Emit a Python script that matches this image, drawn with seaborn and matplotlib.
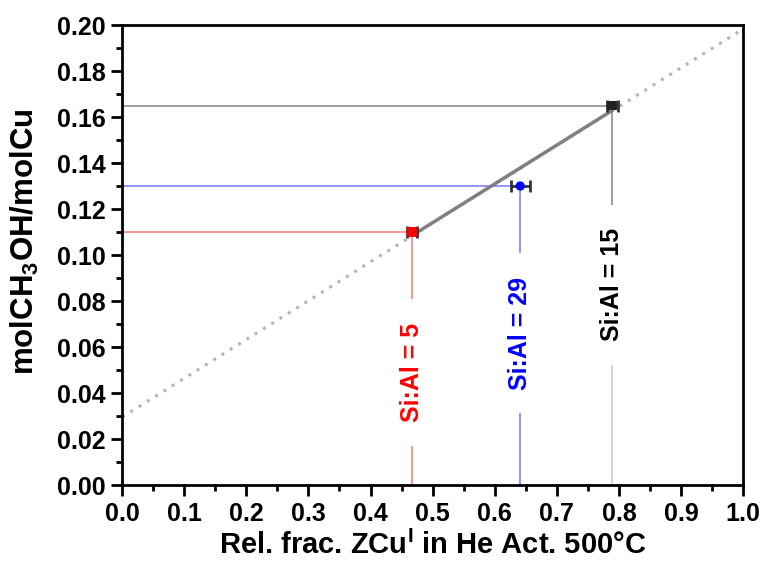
import matplotlib
matplotlib.use("Agg")
import matplotlib.pyplot as plt
import seaborn as sns
import pandas as pd
import numpy as np

# ---- data ----
samples = ["Si:Al = 5", "Si:Al = 29", "Si:Al = 15"]
x_frac = [0.467, 0.641, 0.789]
y_meoh = [0.110, 0.130, 0.165]
x_err = [0.008, 0.015, 0.009]
point_colors = ["#ff0000", "#0000ff", "#222222"]
point_markers = ["s", "o", "s"]
guide_colors = ["#ff8080", "#8080ff", "#8c8c8c"]
guide_low_colors = ["#ff8080", "#8080ff", "#cccccc"]
label_colors = ["#ff0000", "#0000ff", "#000000"]
label_y = [0.049, 0.066, 0.087]

fit_x = [0.0, 1.0]
fit_y = [0.0295, 0.1983]
seg_x = [0.467, 0.789]
seg_y = [0.1085, 0.1628]

x_ticks = [0.0, 0.1, 0.2, 0.3, 0.4, 0.5, 0.6, 0.7, 0.8, 0.9, 1.0]
y_ticks = [0.00, 0.02, 0.04, 0.06, 0.08, 0.10, 0.12, 0.14, 0.16, 0.18, 0.20]

sns.set_theme(style="ticks")
plt.rcParams["font.family"] = ["Liberation Sans", "DejaVu Sans"]
plt.rcParams["font.weight"] = "bold"
plt.rcParams["text.color"] = "black"
plt.rcParams["axes.labelcolor"] = "black"
plt.rcParams["xtick.color"] = "black"
plt.rcParams["ytick.color"] = "black"
plt.rcParams["mathtext.fontset"] = "custom"
plt.rcParams["mathtext.rm"] = "Liberation Sans:bold"
plt.rcParams["mathtext.it"] = "Liberation Sans:bold"
plt.rcParams["mathtext.bf"] = "Liberation Sans:bold"
plt.rcParams["mathtext.default"] = "rm"

fig = plt.figure(figsize=(7.63, 5.67), dpi=100)
ax = fig.add_axes([0.160, 0.1446, 0.814, 0.8113])

# dotted full fit line
sns.lineplot(x=fit_x, y=fit_y, ax=ax, color="#b4b4b4", linestyle=(0, (1, 2.2)),
             linewidth=2.2, zorder=1)
# solid segment
sns.lineplot(x=seg_x, y=seg_y, ax=ax, color="#808080", linewidth=2.5, zorder=4)

for i in range(len(samples)):
    ax.plot([0, x_frac[i]], [y_meoh[i], y_meoh[i]], color=guide_colors[i], lw=1.2, zorder=2)
    ax.plot([x_frac[i], x_frac[i]], [label_y[i], y_meoh[i]], color=guide_colors[i], lw=1.2, zorder=2)
    ax.plot([x_frac[i], x_frac[i]], [0, label_y[i]], color=guide_low_colors[i], lw=1.2, zorder=2)
    ax.text(x_frac[i], label_y[i], samples[i], rotation=90, ha="center", va="center",
            color=label_colors[i], fontsize=18, fontweight="bold", zorder=3,
            bbox=dict(boxstyle="square,pad=0.95", fc="white", ec="none"))

df = pd.DataFrame({"x": x_frac, "y": y_meoh, "s": samples})
for i in range(len(samples)):
    ax.errorbar(x_frac[i], y_meoh[i], xerr=x_err[i], fmt="none", ecolor="#333333",
                elinewidth=2, capsize=4, capthick=2, zorder=5)
    sns.scatterplot(data=df.iloc[[i]], x="x", y="y", ax=ax, color=point_colors[i],
                    marker=point_markers[i], s=45, edgecolor="none", zorder=6)

ax.set_xlim(0, 1.0)
ax.set_ylim(0, 0.20)
ax.set_xticks(x_ticks)
ax.set_yticks(y_ticks)
ax.set_xticklabels([f"{v:.1f}" for v in x_ticks])
ax.set_yticklabels([f"{v:.2f}" for v in y_ticks])
ax.set_xticks(np.arange(0.05, 1.0, 0.1), minor=True)
ax.set_yticks(np.arange(0.01, 0.2, 0.02), minor=True)

for s in ax.spines.values():
    s.set_linewidth(2)
    s.set_color("black")
ax.tick_params(which="major", direction="out", length=8, width=2, labelsize=18,
               color="black", labelcolor="black", pad=4)
ax.tick_params(which="minor", direction="out", length=4.5, width=2, color="black")
for lab in ax.get_xticklabels() + ax.get_yticklabels():
    lab.set_fontweight("bold")

ax.set_xlabel(r"Rel. frac. ZCu$^{\rm I}$ in He Act. 500°C", fontsize=21, fontweight="bold", color="black")
ax.set_ylabel(r"molCH$_{3}$OH/molCu", fontsize=22.5, fontweight="bold", color="black")
ax.xaxis.set_label_coords(0.5, -0.1)
ax.yaxis.set_label_coords(-0.13, 0.53)

fig.savefig("out.png", dpi=100)
